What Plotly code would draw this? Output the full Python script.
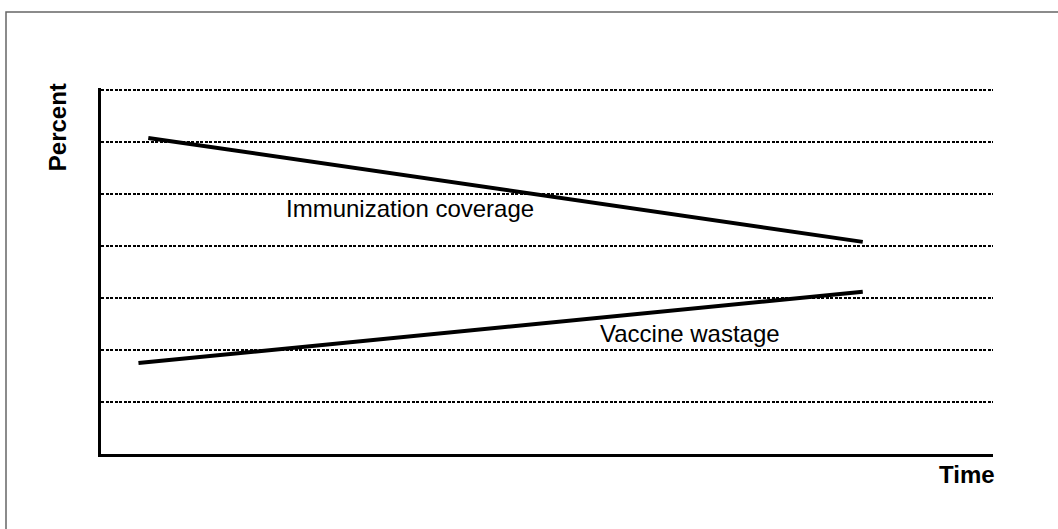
import plotly.graph_objects as go

# Time axis (arbitrary units 0-100) and percent values
coverage_time = [5.3, 85.4]
coverage_pct = [6.08, 4.08]
wastage_time = [4.2, 85.4]
wastage_pct = [1.75, 3.12]

grid_vals = [1, 2, 3, 4, 5, 6, 7]

fig = go.Figure()
fig.add_trace(go.Scatter(x=coverage_time, y=coverage_pct, mode="lines",
                         line=dict(color="black", width=4), hoverinfo="skip"))
fig.add_trace(go.Scatter(x=wastage_time, y=wastage_pct, mode="lines",
                         line=dict(color="black", width=4), hoverinfo="skip"))

font = dict(family="Liberation Sans, Arial, sans-serif", size=24, color="black")

fig.add_annotation(x=34.6, y=4.73, text="Immunization coverage", showarrow=False, font=font,
                   xanchor="center", yanchor="middle")
fig.add_annotation(x=66.0, y=2.31, text="Vaccine wastage", showarrow=False, font=font,
                   xanchor="center", yanchor="middle")
fig.add_annotation(xref="paper", yref="paper", x=-0.0493, y=0.893, text="<b>Percent</b>",
                   textangle=-90, showarrow=False, font=font, xanchor="center", yanchor="middle")
fig.add_annotation(xref="paper", yref="paper", x=0.971, y=-0.057, text="<b>Time</b>",
                   showarrow=False, font=font, xanchor="center", yanchor="middle")

# outer frame (right and bottom edges fall outside the image)
fig.add_shape(type="rect", xref="paper", yref="paper", x0=-0.1065, y0=-0.4, x1=1.2, y1=1.2077,
              line=dict(color="#666666", width=1.5), layer="below")

fig.update_layout(
    width=1058, height=529,
    margin=dict(l=101, r=65, t=88, b=75),
    plot_bgcolor="white", paper_bgcolor="white",
    showlegend=False,
    xaxis=dict(range=[0, 100], showgrid=False, zeroline=False, showticklabels=False,
               ticks="", showline=True, linecolor="black", linewidth=3, fixedrange=True),
    yaxis=dict(range=[0, 7.04], tickvals=grid_vals, showticklabels=False, ticks="",
               showgrid=True, gridcolor="black", gridwidth=2, griddash="3px,1.5px",
               zeroline=False, showline=True, linecolor="black", linewidth=3, fixedrange=True),
)

fig.write_html("out.html", config={"displayModeBar": False},
               post_script="document.body.style.margin='0';document.body.style.overflow='hidden';")
